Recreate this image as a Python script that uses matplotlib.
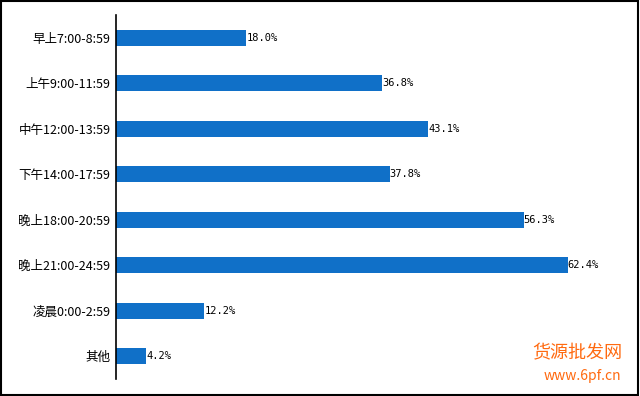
import matplotlib
matplotlib.use("Agg")
import matplotlib.pyplot as plt
from matplotlib.patches import Rectangle

plt.rcParams['font.family'] = ['Noto Sans CJK SC', 'DejaVu Sans']

labels = ["早上7:00-8:59", "上午9:00-11:59", "中午12:00-13:59", "下午14:00-17:59",
          "晚上18:00-20:59", "晚上21:00-24:59", "凌晨0:00-2:59", "其他"]
values = [18.0, 36.8, 43.1, 37.8, 56.3, 62.4, 12.2, 4.2]

fig = plt.figure(figsize=(6.4, 3.96), dpi=100)
ax = fig.add_axes([116 / 640, 1 - 379 / 396, 504 / 640, 364 / 396])

ypos = list(range(len(labels)))
ax.barh(ypos, values, height=0.36, color="#1070C8")
for y, v in zip(ypos, values):
    ax.text(v, y, f"{v:.1f}%", va="center", ha="left", fontsize=7.5,
            family="DejaVu Sans Mono")

ax.set_ylim(len(labels) - 0.5, -0.5)
ax.set_xlim(0, 69.6)
ax.set_yticks(ypos)
ax.set_yticklabels(labels, fontsize=9)
ax.tick_params(axis="y", length=0, pad=4)
ax.set_xticks([])
for s in ["top", "right", "bottom"]:
    ax.spines[s].set_visible(False)
ax.spines["left"].set_linewidth(1.2)

# frame around the picture
fig.patches.append(Rectangle((0.002, 0.003), 0.995, 0.994, transform=fig.transFigure,
                             fill=False, edgecolor="black", linewidth=1.5))

# watermark
fig.text(577 / 640, 1 - 353 / 396, "货源批发网", color="#FF6A10", fontsize=13,
         ha="center", va="center")
fig.text(582 / 640, 1 - 376 / 396, "www.6pf.cn", color="#FF6A10", fontsize=10,
         ha="center", va="center")

fig.savefig("out.png", dpi=100)
